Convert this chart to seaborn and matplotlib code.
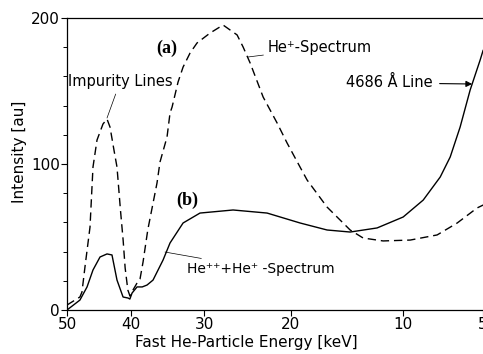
import numpy as np
import pandas as pd
import matplotlib
matplotlib.use("Agg")
import matplotlib.pyplot as plt
import seaborn as sns

# He+ spectrum (a), dashed
he1_energy = [50.0, 47.9, 47.57, 47.09, 46.29, 45.82, 45.19, 44.26, 43.64, 43.18, 42.58,
              42.12, 41.6, 41.2, 40.9, 40.5, 40.18, 39.74, 39.15, 38.72, 38.28, 37.6,
              36.30, 35.88, 34.91, 34.50, 34.22, 33.41, 32.74, 31.82, 30.91, 29.25,
              27.64, 25.95, 25.24, 24.43, 22.96, 21.43, 20.37, 19.03, 18.32, 16.39,
              14.29, 13.17, 11.54, 9.50, 7.67, 6.43, 5.31, 4.99]
he1_intensity = [3.4, 8.9, 12.3, 29.5, 56.8, 97.9, 116.4, 127.4, 130.8, 125.3, 109.6,
                 97.9, 68.5, 47.9, 28.8, 13.7, 9.5, 13.7, 18.5, 21.2, 32.9, 55.0,
                 87.0, 101.4, 118.5, 134.9, 139.0, 156.2, 166.4, 176.0, 182.9, 189.7,
                 195.2, 188.4, 180.1, 169.2, 145.9, 128.1, 114.4, 97.9, 89.0, 70.5,
                 54.8, 49.3, 47.3, 47.9, 51.4, 59.6, 69.9, 71.9]

# He++ + He+ spectrum (b), solid
he2_energy = [50.0, 47.9, 46.76, 45.82, 44.72, 43.64, 42.88, 42.12, 41.21, 40.47, 40.2,
              39.88, 39.15, 38.4, 37.71, 36.86, 35.46, 34.50, 32.74, 30.53, 26.43,
              22.52, 19.03, 16.39, 14.29, 12.02, 10.01, 8.59, 7.47, 6.85, 6.26,
              5.69, 5.15, 4.99]
he2_intensity = [0.0, 6.8, 15.8, 27.4, 36.3, 38.4, 37.7, 20.5, 8.9, 8.2, 7.5,
                 11.6, 15.8, 15.8, 17.1, 20.5, 34.2, 45.9, 59.6, 66.4, 68.5,
                 66.4, 59.6, 54.8, 53.4, 56.2, 63.7, 75.3, 91.1, 104.8, 125.3,
                 150.7, 171.2, 178.0]

x_ticks = [50, 40, 30, 20, 10, 5]
y_ticks = [0, 100, 200]

sns.set_style("ticks")
plt.rcParams["font.family"] = ["DejaVu Sans"]
plt.rcParams["text.color"] = "black"
plt.rcParams["axes.labelcolor"] = "black"
plt.rcParams["xtick.color"] = "black"
plt.rcParams["ytick.color"] = "black"

fig = plt.figure(figsize=(4.83, 3.54), dpi=100)
ax = fig.add_axes([67 / 483, 1 - 310 / 354, (483 - 67) / 483, (310 - 18) / 354])

df_a = pd.DataFrame({"E": he1_energy, "I": he1_intensity})
df_b = pd.DataFrame({"E": he2_energy, "I": he2_intensity})

sns.lineplot(data=df_a, x="E", y="I", ax=ax, color="black", lw=1.0, sort=False,
             estimator=None)
ax.lines[-1].set_dashes([6, 3.5])
sns.lineplot(data=df_b, x="E", y="I", ax=ax, color="black", lw=1.0, sort=False,
             estimator=None)
for ln in ax.lines:
    ln.set_solid_joinstyle("round")
    ln.set_dash_joinstyle("round")

ax.set_xscale("function", functions=(lambda e: np.sqrt(np.maximum(e, 0)),
                                     lambda s: np.asarray(s) ** 2))
ax.set_xlim(50, 5)
ax.set_ylim(0, 200)
ax.set_xticks(x_ticks)
ax.set_xticklabels([str(t) for t in x_ticks])
ax.set_yticks(y_ticks)
ax.set_yticks(np.arange(0, 201, 20), minor=True)
ax.xaxis.set_minor_locator(matplotlib.ticker.NullLocator())
ax.tick_params(axis="both", which="major", direction="out", length=4, width=0.8,
               labelsize=11, pad=1, colors="black")
ax.tick_params(axis="y", which="minor", direction="out", length=3, width=0.7,
               colors="black")

for s in ["left", "bottom", "top"]:
    ax.spines[s].set_visible(True)
    ax.spines[s].set_linewidth(0.9)
    ax.spines[s].set_color("black")
ax.spines["right"].set_visible(False)

ax.set_xlabel("Fast He-Particle Energy [keV]", fontsize=11)
ax.set_ylabel("Intensity [au]", fontsize=11)
ax.xaxis.set_label_coords((246 - 67) / 416, (310 - 342) / 292)
ax.yaxis.set_label_coords((20 - 67) / 416, (310 - 152) / 292)
ax.xaxis.label.set_va("center")
ax.yaxis.label.set_va("center")

thin = dict(arrowstyle="-", color="black", lw=0.5, shrinkA=1, shrinkB=0)
ax.text(34.9, 179.5, "(a)", fontsize=13, fontweight="bold",
        family="Liberation Serif", ha="center", va="center")
ax.annotate("He⁺-Spectrum", xy=(24.66, 173.3), xytext=(22.41, 179.5),
            fontsize=10.5, ha="left", va="center", arrowprops=thin)
ax.annotate("Impurity Lines", xy=(43.64, 131.5), xytext=(41.66, 156.2),
            fontsize=10.5, ha="center", va="center", arrowprops=thin)
ax.annotate("4686 Å Line", xy=(5.58, 154.8), xytext=(7.99, 155.5),
            fontsize=10.5, ha="right", va="center",
            arrowprops=dict(arrowstyle="-|>", color="black", lw=0.8,
                            mutation_scale=9, shrinkA=3, shrinkB=0))
ax.text(32.22, 75.3, "(b)", fontsize=13, fontweight="bold",
        family="Liberation Serif", ha="center", va="center")
ax.annotate("He⁺⁺+He⁺ -Spectrum", xy=(35.19, 39.7), xytext=(32.2, 28.1),
            fontsize=10, ha="left", va="center", arrowprops=thin)

fig.savefig("out.png", dpi=100)
